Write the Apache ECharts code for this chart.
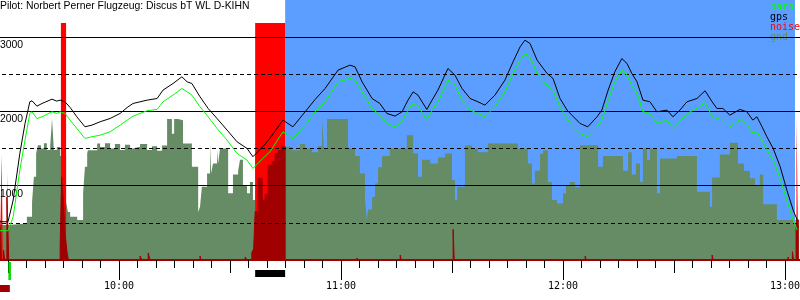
<!DOCTYPE html>
<html><head><meta charset="utf-8">
<script src="https://cdn.jsdelivr.net/npm/echarts@6/dist/echarts.min.js"></script>
<style>html,body{margin:0;padding:0;background:#fff}#c{width:800px;height:300px}</style>
</head><body><div id="c"></div>
<script>
// ---- data (time in minutes since midnight, altitude in m) ----
const titleText = 'Pilot: Norbert Perner Flugzeug: Discus bT WL D-KIHN';
const legendNames = ['baro', 'gps', 'noise', 'gnd'];

const lineTimes = [
567.8,570.0,571.4,573.2,574.6,575.9,576.5,577.8,579.2,581.9,
583.2,584.1,585.4,586.8,588.6,590.8,592.7,594.9,597.6,600.3,
602.2,603.8,607.6,610.3,611.9,614.6,617.0,618.4,619.7,621.9,
624.1,626.5,629.2,631.9,634.6,636.2,639.5,640.8,644.3,647.0,
650.3,653.0,655.7,659.2,662.4,663.8,665.7,668.4,670.5,672.4,
674.6,676.5,678.1,679.5,680.8,683.2,684.6,686.2,688.9,690.8,
692.7,694.9,697.0,698.9,701.6,704.3,706.5,708.4,709.7,711.1,
713.0,715.7,717.3,719.2,721.1,722.4,724.6,726.7,729.2,730.5,
732.2,734.0,735.9,737.3,738.6,740.0,741.6,743.5,745.4,748.1,
749.7,751.6,753.5,756.2,758.4,760.3,761.6,763.2,765.1,767.8,
769.7,771.3,772.4,773.8,775.1,776.8,778.7,780.5,782.2,783.3];

const gps = [
515,515,807,1435,1838,2130,2143,2071,2107,2165,
2139,2152,2130,2053,1928,1793,1816,1861,1905,1973,
2053,2107,2152,2174,2287,2376,2466,2399,2376,2197,
2040,1905,1749,1592,1502,1390,1560,1640,1883,1793,
1995,2161,2309,2556,2623,2600,2399,2174,2107,1973,
1937,1995,2152,2264,2219,2027,2152,2287,2578,2488,
2309,2174,2130,2085,2219,2421,2668,2869,2959,2914,
2690,2511,2444,2174,2018,1950,1838,1793,1928,2018,
2287,2533,2712,2645,2511,2399,2152,2130,1995,2018,
1928,2018,2130,2174,2278,2130,2040,2040,1950,2027,
1995,1883,1928,1793,1659,1502,1255,942,673,538];

const baro = [
394,394,583,1210,1614,1973,1995,1905,1928,1995,
1973,1995,1973,1883,1771,1636,1659,1681,1726,1816,
1883,1937,2009,2027,2130,2220,2309,2265,2220,2063,
1928,1771,1614,1435,1345,1233,1399,1457,1726,1636,
1816,1995,2130,2399,2444,2421,2265,2040,1950,1838,
1793,1860,2018,2108,2072,1883,2018,2130,2421,2354,
2152,2018,1973,1928,2063,2265,2511,2690,2780,2735,
2511,2354,2287,2063,1905,1816,1704,1659,1793,1883,
2152,2399,2556,2489,2354,2242,1995,1973,1838,1883,
1771,1860,1973,2040,2116,1928,1905,1883,1793,1892,
1838,1704,1726,1614,1480,1345,1099,807,538,404];

const gndTimes = [
567.8,570.0,575.1,576.5,577.0,577.6,578.1,578.9,579.7,580.5,
581.4,581.9,582.4,583.2,584.1,585.7,586.2,586.8,588.7,590.3,
590.8,591.4,591.6,594.1,594.9,596.2,597.6,598.9,600.3,601.6,
603.0,603.8,605.7,607.6,608.9,610.3,611.6,613.0,614.3,614.9,
615.9,617.3,619.7,621.4,621.9,622.4,623.8,624.6,624.9,625.4,
626.5,626.8,627.3,629.5,630.8,632.2,632.7,633.5,634.6,635.4,
636.2,636.8,644.9,646.8,648.9,650.3,652.2,653.8,654.9,655.4,
656.2,661.9,663.8,665.1,666.5,667.0,667.3,668.4,669.2,670.0,
671.1,673.2,677.8,679.5,680.8,681.9,684.1,686.2,688.1,690.0,
690.8,691.4,693.5,695.4,697.0,699.7,707.8,710.5,711.6,712.4,
713.8,714.6,715.9,717.0,718.4,720.0,720.8,721.9,723.2,724.6,
729.5,730.8,736.2,737.6,738.6,739.7,740.8,741.6,742.7,743.5,
745.4,746.2,750.8,756.2,759.7,760.3,762.4,765.1,767.3,768.9,
770.5,771.9,773.2,774.1,777.8,782.2,783.6];

const gnd = [
471,493,583,780,1121,1434,1546,1500,1570,1480,
1530,1900,1480,1520,1400,780,646,583,538,897,
1255,1434,1479,1569,1520,1570,1500,1560,1480,1550,
1500,1524,1560,1480,1530,1470,1540,1897,1700,1897,
1880,1569,1255,646,717,986,1166,1560,1166,1300,
1480,1300,1500,897,1150,1200,1350,1000,900,1050,
807,1400,1524,1479,1560,1500,1450,1530,1890,1500,
1897,1500,1400,1166,807,538,680,852,1031,1250,
1400,1502,1681,1434,1121,1350,1300,1380,1434,1076,
807,986,1540,1500,1450,1569,1500,1300,1031,1200,
1430,1479,1050,807,762,900,1000,1050,980,1546,
1255,1399,1200,1450,1150,1300,1050,1502,1350,1500,
897,1367,1400,920,717,1110,1420,1580,1300,1200,
1100,1000,1150,750,538,493,0];

const noiseTimes = [567.8,568.3,568.6,569.8,570.2,584.3,585.7,636.8,644.9,783.1,783.6,785.0];
const noise      = [0,1412,0,1174,0,3190,0,3190,0,1910,0,0];

const enlTimes = [
567.8,568.2,568.8,569.1,569.7,570.2,584.1,584.5,585.0,585.4,
585.9,586.3,605.7,606.2,607.9,608.4,621.9,622.2,634.1,634.6,
635.9,636.4,636.8,637.6,638.7,639.5,640.3,641.4,642.2,643.0,
643.9,644.9,664.3,664.6,676.0,676.3,690.3,690.6,726.0,726.3,
760.3,760.6,780.8,781.1,782.0,782.3,783.0,783.6,785.0];
const enl = [
540,0,130,0,850,0,180,1120,780,360,
130,0,54,0,94,0,54,0,40,0,
100,150,650,1100,807,880,1278,1322,1435,1470,
1524,0,27,0,67,0,413,0,54,0,
67,0,40,0,112,0,540,0,0];

const taskStart = 644.9, taskEnd = 782.7;
const logMark = [567.0, 570.5];
const takeoff = [570.1, 570.8];
const engineRun = [636.8, 644.9];

// ---- styles ----
const C_BLUE = '#5c9eff', C_GND = '#658c64', C_RED = '#ff0000', C_DRED = '#a00000';
const C_BARO = '#00ff00', C_GPS = '#000000';
const markBands = [[25, 32, C_DRED], [2, 20, '#00dd00'], [10, 17, '#000000']];

const zip = (t, v) => t.map((x, i) => [x, v[i]]);
const hhmm = v => { const h = Math.floor(v / 60), m = Math.round(v - h * 60); return h + ':' + (m < 10 ? '0' : '') + m; };
const gridPos = { left: -103, right: -3.5, outerBoundsMode: 'none', containLabel: false };

const chart = echarts.init(document.getElementById('c'), null, { renderer: 'canvas' });
chart.setOption({
  animation: false,
  backgroundColor: '#ffffff',
  title: { text: titleText, left: 0, top: 1, padding: 0,
    textStyle: { fontFamily: 'Liberation Sans', fontSize: 10.4, fontWeight: 'normal', color: '#000' } },
  legend: {
    orient: 'vertical', left: 765, top: 2, padding: 0, icon: 'none', itemWidth: 0, itemHeight: 10, itemGap: 0,
    selectedMode: false,
    textStyle: { fontFamily: 'DejaVu Sans Mono', fontSize: 10, lineHeight: 10 },
    data: [
      { name: legendNames[0], textStyle: { color: C_BARO } },
      { name: legendNames[1], textStyle: { color: C_GPS } },
      { name: legendNames[2], textStyle: { color: C_RED } },
      { name: legendNames[3], textStyle: { color: C_GND } }
    ]
  },
  grid: [
    Object.assign({ top: 0, bottom: 40 }, gridPos),
    Object.assign({ top: 260, height: 40 }, gridPos)
  ],
  xAxis: [
    { gridIndex: 0, type: 'value', position: 'bottom', min: 540, max: 785, interval: 5, z: 6,
      axisLine: { show: true, onZero: false, lineStyle: { color: C_DRED, width: 2 } },
      axisTick: { length: 8, lineStyle: { color: '#000', width: 1 } },
      axisLabel: { show: false }, splitLine: { show: false } },
    { gridIndex: 0, type: 'value', position: 'bottom', min: 540, max: 785, interval: 30, z: 6,
      axisLine: { show: false, onZero: false },
      axisTick: { length: 13, lineStyle: { color: '#000', width: 1 } },
      axisLabel: { show: false }, splitLine: { show: false } },
    { gridIndex: 0, type: 'value', position: 'bottom', min: 540, max: 785, interval: 60, z: 6,
      axisLine: { show: false, onZero: false },
      axisTick: { length: 20, lineStyle: { color: '#000', width: 1 } },
      axisLabel: { show: true, margin: 21, formatter: hhmm, showMinLabel: false, showMaxLabel: false,
        fontFamily: 'DejaVu Sans Mono', fontSize: 10, color: '#000' },
      splitLine: { show: false } },
    { gridIndex: 1, type: 'value', position: 'bottom', min: 540, max: 785, show: false }
  ],
  yAxis: [
    { gridIndex: 0, type: 'value', position: 'left', min: 0, max: 3500, interval: 500, z: 5,
      axisLine: { show: false }, axisTick: { show: false }, axisLabel: { show: false },
      splitLine: { show: true, showMinLine: false, showMaxLine: false, lineStyle: { color: '#000', width: 1, type: [4, 3] } } },
    { gridIndex: 0, type: 'value', position: 'left', min: 0, max: 3500, interval: 1000, z: 6,
      axisLine: { show: false }, axisTick: { show: false },
      axisLabel: { show: true, inside: true, margin: 103, verticalAlign: 'top', padding: [3, 0, 0, 0],
        showMinLabel: false, showMaxLabel: false, formatter: v => String(v),
        fontFamily: 'Liberation Sans', fontSize: 10.4, color: '#000' },
      splitLine: { show: true, showMinLine: false, showMaxLine: false, lineStyle: { color: '#000', width: 1, type: 'solid' } } },
    { gridIndex: 1, type: 'value', min: 0, max: 40, inverse: true, show: false }
  ],
  series: [
    { name: 'task', type: 'line', z: 1, silent: true, symbol: 'none', lineStyle: { width: 0 },
      data: [[taskStart, 0]],
      markArea: { silent: true, itemStyle: { color: C_BLUE, opacity: 1 }, label: { show: false },
        data: [[{ xAxis: taskStart }, { xAxis: taskEnd }]] } },
    { name: 'gnd', type: 'line', z: 2, step: 'end', symbol: 'none', silent: true,
      itemStyle: { color: C_GND }, lineStyle: { width: 0, color: C_GND },
      areaStyle: { color: C_GND, opacity: 1 }, data: zip(gndTimes, gnd) },
    { name: 'noise', type: 'line', z: 3, step: 'end', symbol: 'none', silent: true,
      itemStyle: { color: C_RED }, lineStyle: { width: 0, color: C_RED },
      areaStyle: { color: C_RED, opacity: 1 }, data: zip(noiseTimes, noise) },
    { name: 'enl', type: 'line', z: 4, step: 'end', symbol: 'none', silent: true,
      itemStyle: { color: C_DRED }, lineStyle: { width: 1, color: C_DRED },
      areaStyle: { color: C_DRED, opacity: 1 }, data: zip(enlTimes, enl) },
    { name: 'baro', type: 'line', z: 8, symbol: 'none', silent: true,
      itemStyle: { color: C_BARO }, lineStyle: { width: 1, color: C_BARO }, data: zip(lineTimes, baro) },
    { name: 'gps', type: 'line', z: 9, symbol: 'none', silent: true,
      itemStyle: { color: C_GPS }, lineStyle: { width: 1, color: C_GPS }, data: zip(lineTimes, gps) },
    { name: 'marks', type: 'custom', xAxisIndex: 3, yAxisIndex: 2, z: 9, silent: true,
      data: [[logMark[0], logMark[1], 0], [takeoff[0], takeoff[1], 1], [engineRun[0], engineRun[1], 2]],
      renderItem: function (params, api) {
        const band = markBands[api.value(2)];
        const a = api.coord([api.value(0), band[0]]);
        const b = api.coord([api.value(1), band[1]]);
        return { type: 'rect', shape: { x: a[0], y: a[1], width: b[0] - a[0], height: b[1] - a[1] },
          style: { fill: band[2] } };
      } }
  ]
});
</script>
</body></html>
